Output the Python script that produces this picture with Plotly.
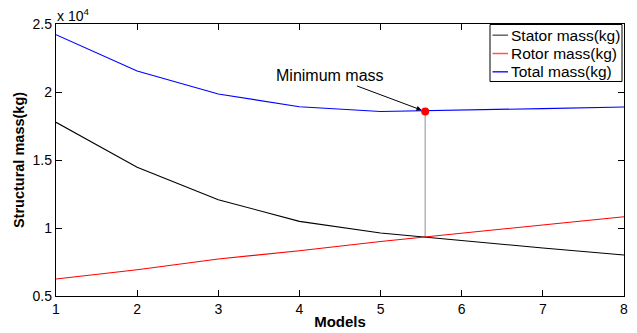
import plotly.graph_objects as go

# ---- data (kg) ----
models = [1, 2, 3, 4, 5, 6, 7, 8]
stator = [17770, 14470, 12080, 10490, 9630, 9070, 8530, 8010]
rotor = [6250, 6930, 7720, 8330, 9010, 9630, 10220, 10830]
total = [24210, 21540, 19850, 18920, 18570, 18700, 18780, 18900]
min_x = 5.55
min_total = 18570
cross_y = 9310
y_tickvals = [5000, 10000, 15000, 20000, 25000]
y_ticktext = ["0.5", "1", "1.5", "2", "2.5"]
x_tickvals = [1, 2, 3, 4, 5, 6, 7, 8]
series_names = ["Stator mass(kg)", "Rotor mass(kg)", "Total mass(kg)"]
series_colors = ["#000000", "#ff0000", "#0000ff"]
legend_colors = ["#666666", "#ff5555", "#2222ff"]

W, H = 637, 333
L, R, T, B = 56, 13, 24, 37
PW, PH = W - L - R, H - T - B
FONT = "Liberation Sans, Arial, Helvetica, sans-serif"


def px(xp):
    return (xp - L) / PW


def py(yp):
    return (H - B - yp) / PH


fig = go.Figure()
fig.add_trace(go.Scatter(x=[min_x, min_x], y=[cross_y, min_total], mode="lines",
                         line=dict(color="#b4b4b4", width=1.5), showlegend=False))
for vals, name, col in zip([stator, rotor, total], series_names, series_colors):
    fig.add_trace(go.Scatter(x=models, y=vals, mode="lines", name=name,
                             line=dict(color=col, width=1.1), showlegend=False))
fig.add_trace(go.Scatter(x=[min_x], y=[min_total], mode="markers",
                         marker=dict(color="#ff0000", size=8), showlegend=False))

axis_common = dict(showline=True, linecolor="black", linewidth=1.3, mirror="ticks",
                   ticks="inside", ticklen=6, tickcolor="black", tickwidth=1,
                   showgrid=False, zeroline=False, automargin=False,
                   tickfont=dict(family=FONT, size=14, color="black"))
fig.update_xaxes(range=[1, 8], tickvals=x_tickvals,
                 title=dict(text="<b>Models</b>", standoff=0,
                            font=dict(family=FONT, size=15, color="black")),
                 **axis_common)
fig.update_yaxes(range=[5000, 25000], tickvals=y_tickvals, ticktext=y_ticktext,
                 title=dict(text="<b>Structural mass(kg)</b>", standoff=4,
                            font=dict(family=FONT, size=14.5, color="black")),
                 **axis_common)

shapes = []
annotations = []
# legend box
shapes.append(dict(type="rect", xref="paper", yref="paper", x0=px(490), x1=px(622),
                   y0=py(81.5), y1=py(24.5), line=dict(color="black", width=1), fillcolor="white"))
for i, (name, col) in enumerate(zip(series_names, legend_colors)):
    yc = 35.2 + i * 18.3
    shapes.append(dict(type="line", xref="paper", yref="paper", x0=px(492.5), x1=px(508),
                       y0=py(yc), y1=py(yc), line=dict(color=col, width=1.5)))
    annotations.append(dict(text=name, xref="paper", yref="paper", x=px(509), y=py(yc),
                            xanchor="left", yanchor="middle", showarrow=False,
                            font=dict(family=FONT, size=15.5, color="black")))

# exponent label
annotations.append(dict(text="x 10<sup>4</sup>", xref="paper", yref="paper", x=px(55), y=py(15),
                        xanchor="left", yanchor="middle", showarrow=False,
                        font=dict(family=FONT, size=14, color="black")))
# minimum annotation with arrow
annotations.append(dict(text="Minimum mass", x=min_x, y=min_total, xref="x", yref="y",
                        showarrow=True, ax=-95, ay=-35.5, arrowhead=2, arrowsize=1,
                        arrowwidth=1, arrowcolor="black", standoff=4,
                        font=dict(family=FONT, size=16, color="black")))

fig.update_layout(width=W, height=H, margin=dict(l=L, r=R, t=T, b=B),
                  paper_bgcolor="white", plot_bgcolor="white", showlegend=False,
                  shapes=shapes, annotations=annotations,
                  font=dict(family=FONT, size=14, color="black"))
fig.write_html("out.html")
